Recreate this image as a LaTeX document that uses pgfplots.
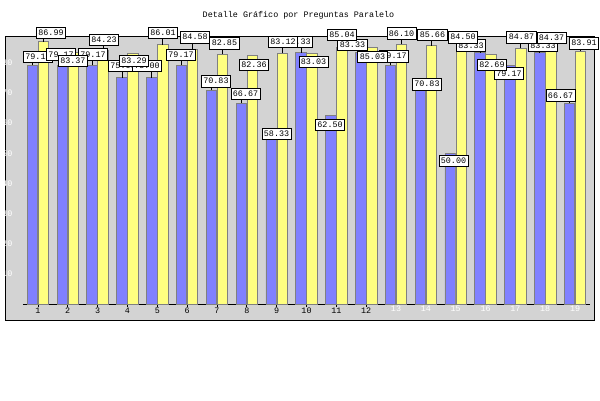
\documentclass[border=0pt]{standalone}
\usepackage{pgfplots}
\usepackage{pgfplotstable}
\pgfplotsset{compat=1.18}
\usepackage{fontspec}
\newfontfamily\chartfont{Liberation Mono}
\definecolor{bgGray}{HTML}{D3D3D3}
\definecolor{barBlue}{HTML}{8080FF}
\definecolor{barYellow}{HTML}{FFFF80}
\definecolor{edgeGray}{HTML}{808080}

\pgfplotstableread{
x y ly dx
1 79.17 82.0 5.6
2 79.17 82.8 -1.2
3 79.17 82.8 0.9
4 75.00 79.0 1.1
5 75.00 79.0 -4.8
6 79.17 82.7 -0.6
7 70.83 73.9 4.5
8 66.67 69.7 4.2
9 58.33 56.5 5.4
10 83.33 87.0 -3.0
11 62.50 59.4 -0.8
12 83.33 86.0 -8.2
13 79.17 82.2 3.5
14 70.83 72.9 6.6
15 50.00 47.5 3.3
16 83.33 85.8 -9.0
17 79.17 76.5 -0.9
18 83.33 85.6 3.3
19 66.67 69.2 -9.0
}\bluetab

\pgfplotstableread{
x y ly dx
1 86.99 89.9 7.6
2 83.37 80.6 -0.4
3 84.23 87.6 0.9
4 83.29 80.6 1.1
5 86.01 90.0 0.2
6 84.58 88.5 2.4
7 82.85 86.5 2.0
8 82.36 79.3 1.7
9 83.12 86.9 0.9
10 83.03 80.3 1.5
11 85.04 89.3 0.2
12 85.03 82.0 0.8
13 86.10 89.8 0.0
14 85.66 89.3 1.1
15 84.50 88.5 1.8
16 82.69 79.3 0.9
17 84.87 88.5 0.6
18 84.37 88.3 0.8
19 83.91 86.5 3.4
}\yellowtab

\pgfplotsset{
  lab/.style={
    draw=none, fill=none, forget plot,
    point meta=y,
    visualization depends on={3.0147*(\thisrow{ly}-\thisrow{y}) \as \labdy},
    visualization depends on={\thisrow{dx} \as \labdx},
    nodes near coords={\pgfmathprintnumber[fixed,fixed zerofill,precision=2]{\pgfplotspointmeta}},
    every node near coord/.append style={font=\chartfont\fontsize{8.4}{10}\selectfont,
      fill=white, draw=black, line width=0.8pt, text=black,
      inner xsep=2pt, inner ysep=2.5pt, text height=6pt, text depth=0.5pt,
      anchor=center, xshift=\labdx pt, yshift=\labdy pt},
    error bars/.cd, y dir=plus, y explicit, error mark=none,
      error bar style={draw=black, line width=0.8pt},
  },
}

\begin{document}
\begin{tikzpicture}
\path[use as bounding box] (0pt,0pt) rectangle (600pt,400pt);
\fill[bgGray] (5.3pt,79.3pt) rectangle (594pt,363pt);
\draw[black, line width=1pt] (5.3pt,79.3pt) rectangle (594pt,363pt);
\node[font=\chartfont\fontsize{8.4}{10}\selectfont] at (298.5pt,385pt) {Detalle Gráfico por Preguntas Paralelo};
\begin{axis}[
  at={(23pt,96pt)}, anchor=south west, scale only axis,
  width=567pt, height=266.8pt,
  xmin=0.5, xmax=19.5, ymin=0, ymax=88.5, clip=false,
  axis lines=left, axis line style={-, line width=0.8pt}, y axis line style={draw=none},
  ybar, bar width=10.5pt,
  xtick={1,...,12},
  extra x ticks={13,...,19},
  extra x tick style={major tick length=0pt, tick label style={text=white}},
  ytick={10,20,...,80}, ytick style={draw=none},
  tick align=center, major tick length=5pt, xtick style={black, line width=0.8pt},
  tick label style={font=\chartfont\fontsize{8.4}{10}\selectfont},
  yticklabel style={text=white, anchor=east, inner sep=0pt, xshift=-8pt},
  xticklabel style={anchor=north, inner sep=0pt, yshift=-1.5pt},
  /pgf/number format/assume math mode=true,
]
\addplot[fill=barBlue, draw=edgeGray, line width=0.8pt, bar shift=-5.5pt] table[x=x,y=y]{\bluetab};
\addplot[fill=barYellow, draw=edgeGray, line width=0.8pt, bar shift=5.5pt] table[x=x,y=y]{\yellowtab};
\addplot[bar shift=-5.5pt, lab] table[x=x,y=y,y error plus expr={max(\thisrow{ly}-\thisrow{y},0)}]{\bluetab};
\addplot[bar shift=5.5pt, lab] table[x=x,y=y,y error plus expr={max(\thisrow{ly}-\thisrow{y},0)}]{\yellowtab};
\end{axis}
\end{tikzpicture}
\end{document}
